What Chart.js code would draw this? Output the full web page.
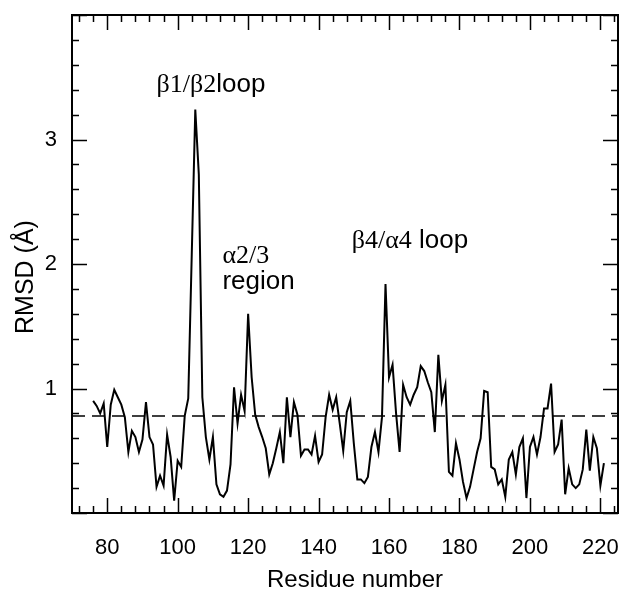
<!DOCTYPE html>
<html>
<head>
<meta charset="utf-8">
<script src="https://cdn.jsdelivr.net/npm/chart.js@4.4.1/dist/chart.umd.min.js"></script>
<style>
    html, body { margin: 0; padding: 0; background: #fff; }
    #wrap { width: 627px; height: 595px; }
</style>
</head>
<body>
<div id="wrap"><canvas id="rmsd-plot" width="627" height="595"></canvas></div>
<script>
// residue numbers (x axis)
const residues = [
    76, 77, 78, 79, 80, 81, 82, 83, 84, 85,
    86, 87, 88, 89, 90, 91, 92, 93, 94, 95,
    96, 97, 98, 99, 100, 101, 102, 103, 104, 105,
    106, 107, 108, 109, 110, 111, 112, 113, 114, 115,
    116, 117, 118, 119, 120, 121, 122, 123, 124, 125,
    126, 127, 128, 129, 130, 131, 132, 133, 134, 135,
    136, 137, 138, 139, 140, 141, 142, 143, 144, 145,
    146, 147, 148, 149, 150, 151, 152, 153, 154, 155,
    156, 157, 158, 159, 160, 161, 162, 163, 164, 165,
    166, 167, 168, 169, 170, 171, 172, 173, 174, 175,
    176, 177, 178, 179, 180, 181, 182, 183, 184, 185,
    186, 187, 188, 189, 190, 191, 192, 193, 194, 195,
    196, 197, 198, 199, 200, 201, 202, 203, 204, 205,
    206, 207, 208, 209, 210, 211, 212, 213, 214, 215,
    216, 217, 218, 219, 220, 221
];

// RMSD per residue, in Å
const rmsd = [
    0.90, 0.86, 0.80, 0.88, 0.53, 0.87, 0.99, 0.93, 0.87, 0.77,
    0.49, 0.66, 0.61, 0.49, 0.59, 0.89, 0.61, 0.55, 0.21, 0.30,
    0.22, 0.63, 0.45, 0.10, 0.42, 0.37, 0.78, 0.92, 2.08, 3.24,
    2.72, 0.93, 0.61, 0.43, 0.61, 0.23, 0.15, 0.13, 0.18, 0.39,
    1.01, 0.72, 0.95, 0.82, 1.60, 1.09, 0.79, 0.69, 0.61, 0.52,
    0.31, 0.40, 0.52, 0.65, 0.40, 0.93, 0.61, 0.89, 0.79, 0.46,
    0.51, 0.51, 0.47, 0.62, 0.41, 0.47, 0.77, 0.95, 0.83, 0.93,
    0.72, 0.50, 0.81, 0.90, 0.56, 0.27, 0.27, 0.24, 0.29, 0.53,
    0.65, 0.49, 0.77, 1.84, 1.09, 1.19, 0.80, 0.49, 1.03, 0.93,
    0.87, 0.95, 1.01, 1.18, 1.14, 1.05, 0.97, 0.65, 1.27, 0.90,
    1.03, 0.33, 0.30, 0.56, 0.43, 0.25, 0.12, 0.21, 0.35, 0.49,
    0.60, 0.98, 0.97, 0.37, 0.35, 0.23, 0.27, 0.13, 0.43, 0.49,
    0.31, 0.53, 0.60, 0.12, 0.53, 0.61, 0.47, 0.61, 0.84, 0.84,
    1.04, 0.49, 0.55, 0.75, 0.15, 0.36, 0.23, 0.20, 0.23, 0.35,
    0.67, 0.34, 0.61, 0.52, 0.22, 0.40
];

// dashed reference level
const cutoff = 0.78;

// labelled ticks
const xTickLabels = [80, 100, 120, 140, 160, 180, 200, 220];
const yTickLabels = [1, 2, 3];

// region labels: pieces of text (serif for the greek part), anchored in data units
const notes = [
    { x: 94.0, y: 3.38, parts: [["β1/β2", "serif"], ["loop", "sans"]] },
    { x: 112.7, y: 2.01, parts: [["α2/3", "serif"]] },
    { x: 112.7, y: 1.80, parts: [["region", "sans"]] },
    { x: 149.4, y: 2.13, parts: [["β4/α4", "serif"], [" loop", "sans"]] }
];

const SANS = "'Liberation Sans', Arial, Helvetica, sans-serif";
const SERIF = "'Liberation Serif', 'Times New Roman', serif";

// inward tick marks on all four sides, frame, axis titles, region labels
const framePlugin = {
    id: "frame",
    afterDraw(chart) {
        const ctx = chart.ctx;
        const area = chart.chartArea;
        const xs = chart.scales.x;
        const ys = chart.scales.y;
        ctx.save();
        ctx.strokeStyle = "#000";
        ctx.lineWidth = 2;
        ctx.strokeRect(area.left, area.top, area.right - area.left, area.bottom - area.top);

        ctx.lineWidth = 1.5;
        ctx.beginPath();
        xs.ticks.forEach(t => {
            const px = Math.round(xs.getPixelForValue(t.value)) + 0.5;
            const len = (t.value % 20 === 0) ? 15 : 7;
            ctx.moveTo(px, area.bottom);
            ctx.lineTo(px, area.bottom - len);
            ctx.moveTo(px, area.top);
            ctx.lineTo(px, area.top + len);
        });
        ys.ticks.forEach(t => {
            const py = Math.round(ys.getPixelForValue(t.value)) + 0.5;
            const major = Math.abs(t.value - Math.round(t.value)) < 1e-6;
            const len = major ? 15 : 7;
            ctx.moveTo(area.left, py);
            ctx.lineTo(area.left + len, py);
            ctx.moveTo(area.right, py);
            ctx.lineTo(area.right - len, py);
        });
        ctx.stroke();

        ctx.fillStyle = "#000";

        // axis titles
        ctx.font = "24px " + SANS;
        ctx.textAlign = "center";
        ctx.textBaseline = "alphabetic";
        ctx.fillText("Residue number", 355, 587);

        ctx.save();
        ctx.translate(33, 277);
        ctx.rotate(-Math.PI / 2);
        ctx.font = "25px " + SANS;
        ctx.fillText("RMSD (Å)", 0, 0);
        ctx.restore();

        // region labels
        ctx.textAlign = "left";
        ctx.textBaseline = "alphabetic";
        notes.forEach(n => {
            let px = xs.getPixelForValue(n.x);
            const py = ys.getPixelForValue(n.y);
            n.parts.forEach(([text, face]) => {
                ctx.font = (face === "serif") ? "26px " + SERIF : "26px " + SANS;
                ctx.fillText(text, px, py);
                px += ctx.measureText(text).width;
            });
        });
        ctx.restore();
    }
};

const points = residues.map((r, i) => ({ x: r, y: rmsd[i] }));

new Chart(document.getElementById("rmsd-plot"), {
    type: "line",
    data: {
        datasets: [
            {
                data: points,
                borderColor: "#000",
                borderWidth: 2,
                pointRadius: 0,
                tension: 0
            },
            {
                data: [{ x: 70, y: cutoff }, { x: 225, y: cutoff }],
                borderColor: "#000",
                borderWidth: 1.5,
                borderDash: [13, 7],
                pointRadius: 0
            }
        ]
    },
    options: {
        responsive: false,
        animation: false,
        devicePixelRatio: 1,
        layout: { padding: { top: 15, right: 9, left: 0, bottom: 0 } },
        scales: {
            x: {
                type: "linear",
                min: 70,
                max: 225,
                afterBuildTicks(scale) {
                    const ticks = [];
                    for (let v = 72; v <= 224; v += 4) ticks.push({ value: v });
                    scale.ticks = ticks;
                },
                afterFit(scale) {
                    scale.height = 82;
                    scale.paddingLeft = 0;
                    scale.paddingRight = 0;
                },
                grid: { display: false, drawTicks: false },
                border: { display: false },
                ticks: {
                    autoSkip: false,
                    maxRotation: 0,
                    padding: 22,
                    color: "#000",
                    font: { family: SANS, size: 22 },
                    callback: v => xTickLabels.includes(v) ? String(v) : ""
                }
            },
            y: {
                min: 0,
                max: 4,
                afterBuildTicks(scale) {
                    const ticks = [];
                    for (let i = 0; i <= 20; i++) ticks.push({ value: i / 5 });
                    scale.ticks = ticks;
                },
                afterFit(scale) {
                    scale.width = 72;
                    scale.paddingTop = 0;
                    scale.paddingBottom = 0;
                },
                grid: { display: false, drawTicks: false },
                border: { display: false },
                ticks: {
                    autoSkip: false,
                    padding: 15,
                    color: "#000",
                    font: { family: SANS, size: 22 },
                    callback: v => yTickLabels.includes(Math.round(v * 1000) / 1000) ? String(v) : ""
                }
            }
        },
        plugins: {
            legend: { display: false },
            tooltip: { enabled: false }
        }
    },
    plugins: [framePlugin]
});
</script>
</body>
</html>
